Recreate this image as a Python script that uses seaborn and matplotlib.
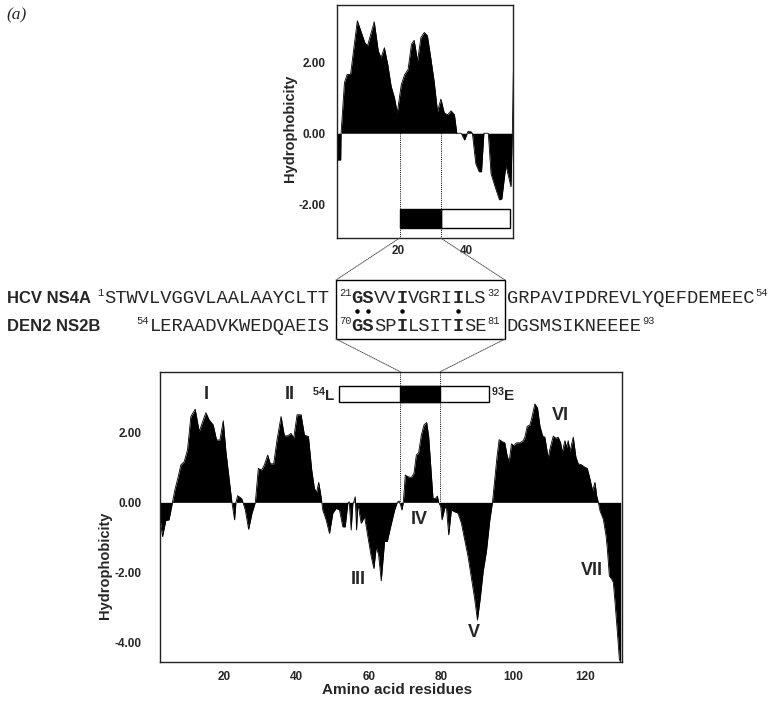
import numpy as np
import pandas as pd
import matplotlib
matplotlib.use("Agg")
import matplotlib.pyplot as plt
import seaborn as sns
from matplotlib.patches import Rectangle, ConnectionPatch

# ---------------- data ----------------
hcv_res = [1.8, 2.9, 3.0, 4.0, 4.8, 5.8, 7.8, 10.0, 10.8, 12.8, 14.0, 14.8, 15.8, 16.8,
           17.8, 18.8, 19.6, 20.8, 21.8, 22.8, 23.8, 24.6, 25.6, 26.6, 27.6, 28.5, 29.5,
           30.5, 31.5, 32.5, 33.5, 34.5, 35.5, 36.5, 37.2, 38.5, 39.5, 40.5, 41.3, 41.8,
           42.8, 43.8, 44.5, 45.2, 46.5, 47.3, 48.5, 49.8, 50.5, 51.7, 53.2, 53.6, 53.9]
hcv_hyd = [-0.75, -0.75, 0.0, 1.42, 1.65, 1.65, 3.16, 2.55, 2.45, 3.13, 2.31, 2.12, 2.40, 1.93,
           1.32, 0.99, 0.57, 1.37, 1.65, 1.79, 2.50, 2.61, 2.03, 2.69, 2.83, 2.74, 2.12,
           1.46, 0.61, 0.96, 0.57, 0.52, 0.63, 0.52, 0.0, 0.0, -0.19, 0.05, 0.05, 0.0,
           -0.85, -1.08, -1.08, 0.0, 0.0, -1.13, -1.50, -1.87, -1.84, -0.90, -1.50, 0.0, 1.7]

den_res = [2.1, 2.8, 3.7, 4.6, 5.56, 6.21, 7.14, 7.88, 8.8, 9.73, 10.65, 11.86, 12.97, 13.9,
           14.82, 15.75, 16.86, 17.78, 18.71, 19.64, 20.38, 21.3, 22.04, 22.78, 23.15, 23.62,
           24.73, 25.1, 25.75, 26.67, 27.6, 28.53, 29.36, 30.28, 31.03, 31.95, 32.69, 33.62,
           34.54, 35.66, 36.58, 37.51, 38.43, 39.17, 40.1, 41.21, 42.14, 43.25, 44.17, 44.91,
           45.5, 46.1, 46.6, 46.96, 47.23, 48.16, 49.09, 50.01, 50.94, 51.86, 52.79, 53.44,
           54.18, 54.55, 55.1, 55.57, 55.85, 56.22, 56.59, 56.96, 57.88, 58.81, 59.73, 60.66,
           61.4, 62.05, 62.7, 63.44, 64.36, 65.1, 66.03, 67.14, 67.88, 68.35, 68.81, 69.18,
           69.55, 70.11, 70.85, 71.77, 72.51, 73.16, 73.81, 74.55, 75.29, 76.03, 76.59, 77.14,
           77.79, 78.44, 78.99, 79.36, 79.92, 80.29, 81.03, 81.49, 82.14, 82.88, 83.81, 84.73,
           85.66, 86.59, 87.51, 88.44, 89.3, 90.1, 90.9, 91.7, 92.6, 93.5, 94.27, 94.91, 95.56,
           96.12, 97.04, 97.69, 98.34, 98.9, 99.54, 100.19, 100.93, 101.86, 102.78, 103.25,
           103.9, 104.64, 105.1, 106.03, 106.77, 107.41, 108.16, 108.8, 109.73, 110.19, 111.12,
           111.86, 112.5, 113.16, 113.62, 114.36, 114.82, 115.28, 115.75, 116.67, 117.41,
           118.06, 118.99, 119.91, 120.56, 121.3, 122.04, 122.69, 123.16, 123.62, 124.08,
           125.0, 125.75, 126.12, 126.67, 127.32, 127.78, 128.25, 128.9, 129.45, 129.82]
den_hyd = [-0.45, -0.98, -0.52, -0.50, 0.0, 0.35, 0.73, 1.07, 1.16, 1.50, 2.45, 2.66, 2.02, 2.30,
           2.56, 2.35, 2.21, 1.78, 1.78, 2.33, 1.45, 0.64, 0.0, -0.50, 0.0, 0.19,
           0.11, 0.0, -0.22, -0.77, -0.31, 0.0, 0.97, 0.92, 1.07, 1.35, 1.10, 1.10,
           1.78, 2.45, 1.90, 1.90, 1.97, 1.83, 2.50, 2.50, 1.92, 1.88, 0.92, 0.40,
           0.28, 0.57, 0.26, 0.0, -0.22, -0.50, -0.89, -0.31, -0.17, -0.22, -0.70, -0.70,
           -0.03, 0.02, -0.79, -0.03, 0.02, 0.16, -0.79, -0.03, -0.60, -0.41, -0.98, -1.55,
           -1.89, -1.27, -1.50, -2.24, -1.12, -1.12, -0.70, -0.22, 0.0, 0.04, -0.08, -0.22,
           0.0, 0.78, 0.73, 0.71, 0.83, 1.35, 1.42, 1.92, 2.21, 2.28, 1.88, 1.07,
           0.11, 0.11, 0.18, 0.0, -0.12, -0.50, -0.17, -0.12, -0.93, -0.22, -0.27, -0.31,
           -0.60, -1.08, -1.55, -2.16, -2.73, -3.36, -2.73, -1.97, -1.40, -0.54, 0.0, 0.67, 1.33,
           1.79, 1.73, 1.70, 1.33, 1.16, 1.67, 1.62, 1.70, 1.70, 1.76, 1.86,
           2.17, 2.21, 2.38, 2.81, 2.69, 2.19, 1.90, 1.86, 1.26, 1.52, 1.89,
           1.83, 1.86, 1.70, 1.43, 1.76, 1.57, 1.76, 1.45, 1.86, 1.29,
           1.10, 1.07, 1.00, 0.97, 0.67, 0.33, 0.57, 0.19, 0.0, -0.24,
           -0.48, -0.95, -1.33, -2.10, -2.19, -2.29, -2.86, -3.71, -4.48, -4.57]

region_labels = ["I", "II", "III", "IV", "V", "VI", "VII"]
region_x = [14.8, 38.0, 57.2, 74.1, 89.1, 113.2, 121.8]
region_y = [3.09, 3.09, -2.19, -0.48, -3.73, 2.47, -1.96]

hcv_x_ticks = [20, 40]
hcv_y_ticks = [-2, 0, 2]
den_x_ticks = [20, 40, 60, 80, 100, 120]
den_y_ticks = [-4, -2, 0, 2]

# aligned segment (HCV 21-32, DEN2 70-81) shown on the profiles
hcv_seg = (20.3, 32.4)
hcv_bar_end = 52.9
den_bar_start = 51.6
den_seg = (68.7, 79.8)
den_bar_end = 93.2

hcv_label = "HCV NS4A"
den_label = "DEN2 NS2B"
hcv_pre = ("1", "STWVLVGGVLAALAAYCLTT")
hcv_core = ("21", [("GS", True), ("VV", False), ("I", True), ("VGRI", False), ("I", True), ("LS", False)], "32")
hcv_post = ("GRPAVIPDREVLYQEFDEMEEC", "54")
den_pre = ("54", "LERAADVKWEDQAEIS")
den_core = ("70", [("GS", True), ("SP", False), ("I", True), ("LSIT", False), ("I", True), ("SE", False)], "81")
den_post = ("DGSMSIKNEEEE", "93")
dot_positions = [1, 2, 5, 10]

# ---------------- style ----------------
sns.set_style("white")
plt.rcParams['font.family'] = ['Liberation Sans', 'DejaVu Sans']
plt.rcParams['axes.unicode_minus'] = False
plt.rcParams['mathtext.fontset'] = 'custom'
plt.rcParams['mathtext.rm'] = 'Liberation Sans'
plt.rcParams['mathtext.bf'] = 'Liberation Sans:bold'

W, H = 769, 702
fig = plt.figure(figsize=(W / 100, H / 100), dpi=100)
fig.patch.set_facecolor("white")

ax_top = fig.add_axes([337 / W, 1 - 238 / H, 176 / W, 233 / H])
ax_bot = fig.add_axes([160 / W, 1 - 661.7 / H, 461.7 / W, 290 / H])
ov = fig.add_axes([0, 0, 1, 1])
ov.set_xlim(0, W)
ov.set_ylim(H, 0)
ov.axis("off")
ov.patch.set_alpha(0)

top_df = pd.DataFrame({"res": hcv_res, "hyd": hcv_hyd})
bot_df = pd.DataFrame({"res": den_res, "hyd": den_hyd})

TOP_XLIM, TOP_YLIM = (1.8, 53.8), (-2.94, 3.6)
BOT_XLIM, BOT_YLIM = (2.1, 130.1), (-4.55, 3.73)

for ax, df, xl, yl, xt, yt in [(ax_top, top_df, TOP_XLIM, TOP_YLIM, hcv_x_ticks, hcv_y_ticks),
                               (ax_bot, bot_df, BOT_XLIM, BOT_YLIM, den_x_ticks, den_y_ticks)]:
    ax.fill_between(df["res"], df["hyd"], 0, color="black", linewidth=0)
    sns.lineplot(data=df, x="res", y="hyd", ax=ax, color="black", linewidth=0.6,
                 estimator=None, sort=False)
    ax.set_xlim(*xl)
    ax.set_ylim(*yl)
    ax.set_xticks(xt)
    ax.set_yticks(yt)
    ax.set_xticklabels([str(v) for v in xt], fontweight="bold", fontsize=8.5)
    ax.set_yticklabels(["%.2f" % v for v in yt], fontweight="bold", fontsize=8.5)
    ax.set_xlabel("")
    ax.set_ylabel("")
    for s in ax.spines.values():
        s.set_color("#222222")
        s.set_linewidth(1.0)
    ax.tick_params(direction="in", length=5, width=1, color="#222222")

ax_top.tick_params(axis="y", pad=8)
ax_top.tick_params(axis="x", pad=5)
ax_bot.tick_params(axis="y", pad=13)
ax_bot.tick_params(axis="x", pad=7)

# bars showing the aligned segment
ax_top.add_patch(Rectangle((hcv_seg[1], -2.65), hcv_bar_end - hcv_seg[1], 0.51,
                           facecolor="white", edgecolor="black", linewidth=1, zorder=3))
ax_top.add_patch(Rectangle((hcv_seg[0], -2.65), hcv_seg[1] - hcv_seg[0], 0.51,
                           facecolor="black", edgecolor="black", linewidth=1, zorder=3))
ax_bot.add_patch(Rectangle((den_bar_start, 2.87), den_bar_end - den_bar_start, 0.45,
                           facecolor="white", edgecolor="black", linewidth=1, zorder=3))
ax_bot.add_patch(Rectangle((den_seg[0], 2.87), den_seg[1] - den_seg[0], 0.45,
                           facecolor="black", edgecolor="black", linewidth=1, zorder=3))
ax_bot.text(den_bar_start - 0.8, 3.08, r"$\mathbf{^{54}L}$", ha="right", va="center", fontsize=11)
ax_bot.text(den_bar_end + 0.8, 3.08, r"$\mathbf{^{93}E}$", ha="left", va="center", fontsize=11)

# dotted guides
for xv in hcv_seg:
    ax_top.plot([xv, xv], [0, TOP_YLIM[0]], ls=(0, (1, 1.2)), color="black", lw=0.7, zorder=4)
for xv in den_seg:
    ax_bot.plot([xv, xv], [BOT_YLIM[1], 0], ls=(0, (1, 1.2)), color="black", lw=0.7, zorder=4)

# region labels
for lab, xv, yv in zip(region_labels, region_x, region_y):
    ax_bot.text(xv, yv, lab, ha="center", va="center", fontsize=13, fontweight="bold")

# axis titles
fig.text(290 / W, 1 - 128 / H, "Hydrophobicity", rotation=90, ha="center", va="center",
         fontsize=10.5, fontweight="bold")
fig.text(105 / W, 1 - 565 / H, "Hydrophobicity", rotation=90, ha="center", va="center",
         fontsize=10.5, fontweight="bold")
fig.text(397 / W, 1 - 690 / H, "Amino acid residues", ha="center", va="center",
         fontsize=11, fontweight="bold")
fig.text(6 / W, 1 - 15 / H, "(a)", ha="left", va="center", fontsize=12.5, style="italic",
         family="Liberation Serif")

# ---------------- sequence alignment ----------------
MONO = "Liberation Mono"
SEQ_FS = 13.5
CW = 0.6 * SEQ_FS * 100 / 72          # char width in px
SUP_FS = 7.5
SW = 0.6 * SUP_FS * 100 / 72
box_l, box_r, box_t, box_b = 336, 505, 280, 339
rows = [(303, hcv_label, hcv_pre, hcv_core, hcv_post),
        (331, den_label, den_pre, den_core, den_post)]
pre_end = 329.5
core_start = 339
post_start = 507

for base, lab, pre, core, post in rows:
    ov.text(7, base, lab, ha="left", va="baseline", fontsize=12, fontweight="bold")
    # before the box (right-aligned to the box)
    s0 = pre_end - len(pre[1]) * CW
    ov.text(s0, base, pre[1], family=MONO, fontsize=SEQ_FS, ha="left", va="baseline")
    ov.text(s0 - len(pre[0]) * SW - 0.5, base - 7, pre[0], family=MONO, fontsize=SUP_FS,
            ha="left", va="baseline")
    # inside the box
    ov.text(core_start, base - 7, core[0], family=MONO, fontsize=SUP_FS, ha="left", va="baseline")
    x = core_start + len(core[0]) * SW
    for chunk, bold in core[1]:
        ov.text(x, base, chunk, family=MONO, fontsize=SEQ_FS, ha="left", va="baseline",
                fontweight="bold" if bold else "normal")
        x += len(chunk) * CW
    ov.text(x + 0.5, base - 7, core[2], family=MONO, fontsize=SUP_FS, ha="left", va="baseline")
    # after the box
    ov.text(post_start, base, post[0], family=MONO, fontsize=SEQ_FS, ha="left", va="baseline")
    ov.text(post_start + len(post[0]) * CW + 0.5, base - 7, post[1], family=MONO,
            fontsize=SUP_FS, ha="left", va="baseline")

core_x0 = core_start + 2 * SW
ov.plot([core_x0 + (p - 0.5) * CW for p in dot_positions], [310.5] * len(dot_positions),
        ls="none", marker="o", markersize=2.2, color="black")
ov.add_patch(Rectangle((box_l, box_t), box_r - box_l, box_b - box_t, facecolor="none",
                       edgecolor="black", linewidth=1.0))

# connector lines between the panels and the alignment box
con_style = dict(linestyle=(0, (1, 1)), color="#555555", linewidth=0.7)
for xv, bx in [(hcv_seg[0], box_l), (hcv_seg[1], box_r)]:
    fig.add_artist(ConnectionPatch(xyA=(xv, TOP_YLIM[0]), coordsA=ax_top.transData,
                                   xyB=(bx, box_t), coordsB=ov.transData, **con_style))
for xv, bx in [(den_seg[0], box_l), (den_seg[1], box_r)]:
    fig.add_artist(ConnectionPatch(xyA=(bx, box_b), coordsA=ov.transData,
                                   xyB=(xv, BOT_YLIM[1]), coordsB=ax_bot.transData, **con_style))

fig.savefig("out.png", dpi=100, facecolor="white")
